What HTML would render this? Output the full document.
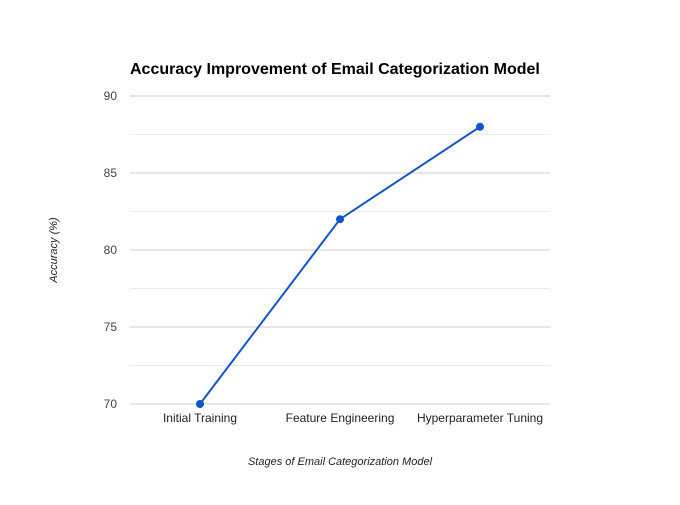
<!DOCTYPE html>
<html><head><meta charset="utf-8"><style>
body{margin:0;background:#fff;}
svg text{font-family:"Liberation Sans",Arial,sans-serif;}
</style></head><body>
<svg id="chart" width="680" height="500">
<rect width="680" height="500" fill="#fff"/>
<text x="130" y="74" font-size="16" font-weight="bold" fill="#000">Accuracy Improvement of Email Categorization Model</text>
<g id="grid"></g>
<g id="yticks"></g>
<g id="xticks"></g>
<text transform="translate(57,250) rotate(-90)" text-anchor="middle" font-size="11" font-style="italic" fill="#222">Accuracy (%)</text>
<text x="340" y="465" text-anchor="middle" font-size="11" font-style="italic" fill="#222">Stages of Email Categorization Model</text>
<g id="series"></g>
</svg>
<script>
const categories = ["Initial Training","Feature Engineering","Hyperparameter Tuning"];
const accuracy = [70, 82, 88];
const yTicks = [70, 75, 80, 85, 90];
const yMinor = [72.5, 77.5, 82.5, 87.5];
const NS="http://www.w3.org/2000/svg";
const plotLeft=130,plotRight=550,plotTop=96,plotBottom=404,yMin=70,yMax=90;
const yScale=v=>plotBottom-(v-yMin)/(yMax-yMin)*(plotBottom-plotTop);
const bw=(plotRight-plotLeft)/categories.length;
const xScale=i=>plotLeft+bw*(i+0.5);
function mk(tag,attrs,parent){const e=document.createElementNS(NS,tag);for(const k in attrs)e.setAttribute(k,attrs[k]);parent.appendChild(e);return e;}
const grid=document.getElementById('grid');
yMinor.forEach(v=>{const l=mk('line',{x1:plotLeft,x2:plotRight,y1:yScale(v),y2:yScale(v),stroke:'#ebebeb','stroke-width':1},grid);

});
yTicks.forEach(v=>{const l=mk('line',{x1:plotLeft,x2:plotRight,y1:yScale(v),y2:yScale(v),stroke:'#cccccc','stroke-width':1},grid);


const t=mk('text',{x:117,y:yScale(v)+4,'text-anchor':'end','font-size':12,fill:'#444'},document.getElementById('yticks'));
t.textContent=v;

});
categories.forEach((c,i)=>{const t=mk('text',{x:xScale(i),y:422,'text-anchor':'middle','font-size':12,fill:'#222'},document.getElementById('xticks'));
t.textContent=c;

});
const s=document.getElementById('series');
const p=mk('polyline',{points:accuracy.map((v,i)=>xScale(i)+','+yScale(v)).join(' '),fill:'none',stroke:'#1155cc','stroke-width':2},s);


accuracy.forEach((v,i)=>{const c=mk('circle',{cx:xScale(i),cy:yScale(v),r:4,fill:'#1155cc'},s);

});
</script>
</body></html>
